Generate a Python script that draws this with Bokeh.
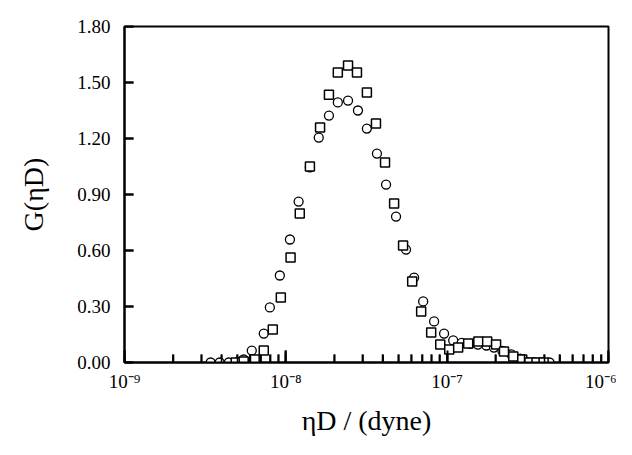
from bokeh.plotting import figure
from bokeh.models import FixedTicker, LogTicker, NumeralTickFormatter, CustomJSTickFormatter, ColumnDataSource
from bokeh.embed import file_html
from bokeh.resources import INLINE

# circles
circle_x = [3.42e-9, 3.89e-9, 4.43e-9, 4.96e-9, 5.48e-9, 6.15e-9, 7.30e-9, 7.96e-9,
            9.18e-9, 1.06e-8, 1.20e-8, 1.41e-8, 1.60e-8, 1.85e-8, 2.10e-8, 2.43e-8,
            2.80e-8, 3.18e-8, 3.67e-8, 4.18e-8, 4.82e-8, 5.56e-8, 6.24e-8, 7.10e-8,
            8.30e-8, 9.57e-8, 1.09e-7, 1.23e-7, 1.39e-7, 1.55e-7, 1.75e-7, 1.95e-7,
            2.20e-7, 2.50e-7, 2.84e-7, 3.18e-7, 3.52e-7, 3.89e-7, 4.31e-7]
circle_y = [0.0, 0.0, 0.0, 0.0, 0.016, 0.064, 0.155, 0.295,
            0.466, 0.659, 0.862, 1.045, 1.205, 1.323, 1.393, 1.403,
            1.350, 1.253, 1.119, 0.953, 0.782, 0.605, 0.455, 0.327,
            0.220, 0.155, 0.118, 0.105, 0.100, 0.096, 0.091, 0.080,
            0.062, 0.043, 0.021, 0.0, 0.0, 0.0, 0.0]

# squares
square_x = [4.89e-9, 5.48e-9, 6.41e-9, 7.30e-9, 8.30e-9, 9.31e-9, 1.07e-8, 1.22e-8,
            1.41e-8, 1.63e-8, 1.85e-8, 2.10e-8, 2.43e-8, 2.76e-8, 3.18e-8, 3.62e-8,
            4.12e-8, 4.69e-8, 5.33e-8, 6.07e-8, 6.90e-8, 7.96e-8, 9.06e-8, 1.03e-7,
            1.17e-7, 1.35e-7, 1.56e-7, 1.77e-7, 2.01e-7, 2.25e-7, 2.57e-7, 2.92e-7,
            3.23e-7, 3.58e-7, 3.96e-7]
square_y = [0.0, 0.005, 0.016, 0.064, 0.177, 0.348, 0.562, 0.798,
            1.050, 1.259, 1.435, 1.553, 1.591, 1.553, 1.446, 1.280,
            1.071, 0.852, 0.627, 0.434, 0.273, 0.161, 0.096, 0.070,
            0.080, 0.102, 0.112, 0.112, 0.096, 0.059, 0.032, 0.016,
            0.0, 0.0, 0.0]

y_ticks = [0.0, 0.3, 0.6, 0.9, 1.2, 1.5, 1.8]
x_decades = [1e-9, 1e-8, 1e-7, 1e-6]

serif = "Liberation Serif"
W, H = 616, 439
L, R, T, B = 124, 8, 26, 77
frame_w, frame_h = W - L - R, H - T - B

p = figure(width=W, height=H, x_axis_type="log",
           x_range=(1e-9, 1e-6), y_range=(0, 1.8),
           output_backend="svg", toolbar_location=None,
           min_border_left=L, min_border_right=R,
           min_border_top=T, min_border_bottom=B)

p.grid.visible = False
p.outline_line_color = "black"
p.outline_line_width = 2

p.xaxis.ticker = LogTicker(num_minor_ticks=10)
p.xaxis.formatter = CustomJSTickFormatter(code="""
    const sup = {"-": "\u207b", "0": "\u2070", "1": "\u00b9", "2": "\u00b2", "3": "\u00b3",
                 "4": "\u2074", "5": "\u2075", "6": "\u2076", "7": "\u2077", "8": "\u2078", "9": "\u2079"};
    const e = String(Math.round(Math.log10(tick)));
    let s = "";
    for (const c of e) { s += sup[c]; }
    return "10" + s;
""")
p.yaxis.ticker = FixedTicker(ticks=y_ticks)
p.yaxis.formatter = NumeralTickFormatter(format="0.00")

for ax in (p.xaxis[0], p.yaxis[0]):
    ax.axis_line_width = 2
    ax.major_tick_out = 0
    ax.minor_tick_out = 0
    ax.major_tick_line_color = "black"
    ax.minor_tick_line_color = "black"
    ax.major_tick_line_width = 2
    ax.minor_tick_line_width = 1.5
    ax.major_label_text_font = serif
    ax.major_label_text_font_size = "19px"
    ax.major_label_text_color = "black"
    ax.axis_label_text_font = serif
    ax.axis_label_text_font_size = "28px"
    ax.axis_label_text_font_style = "normal"
    ax.axis_label_text_color = "black"

p.xaxis.major_tick_in = 12
p.xaxis.minor_tick_in = 8
p.yaxis.major_tick_in = 9
p.yaxis.minor_tick_line_color = None

p.xaxis.major_label_standoff = 8
p.yaxis.major_label_standoff = 14
p.xaxis.axis_label = "ηD / (dyne)"
p.yaxis.axis_label = "G(ηD)"
p.xaxis.axis_label_standoff = 10
p.yaxis.axis_label_standoff = 25

# inward ticks again as segments built from the tick lists
minor_x = [d * k for d in x_decades[:-1] for k in range(2, 10)]
tick_x = x_decades + minor_x
tick_len = [12 / frame_h * 1.8] * len(x_decades) + [8 / frame_h * 1.8] * len(minor_x)
xt_src = ColumnDataSource(dict(x0=tick_x, y0=[0.0] * len(tick_x), x1=tick_x, y1=tick_len))
p.segment(x0="x0", y0="y0", x1="x1", y1="y1", source=xt_src, line_color="black", line_width=2)

yt_end = 1e-9 * 10 ** (9 / frame_w * 3)
yt_src = ColumnDataSource(dict(x0=[1e-9] * len(y_ticks), y0=y_ticks,
                               x1=[yt_end] * len(y_ticks), y1=y_ticks))
p.segment(x0="x0", y0="y0", x1="x1", y1="y1", source=yt_src, line_color="black", line_width=2)

p.scatter(circle_x, circle_y, marker="circle", size=9, fill_color="white",
          line_color="black", line_width=1.3)
p.scatter(square_x, square_y, marker="square", size=9, fill_color="white",
          line_color="black", line_width=1.5)

open("out.html", "w").write(file_html(p, INLINE))
